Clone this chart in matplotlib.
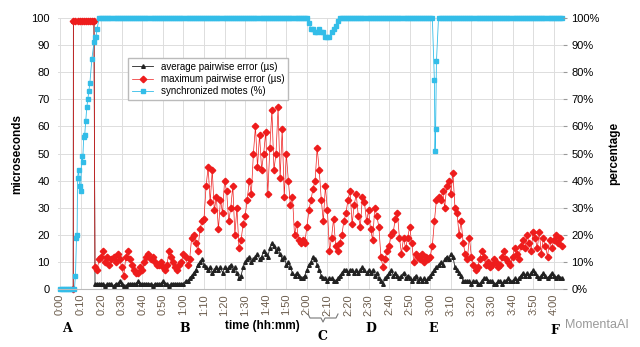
import matplotlib.pyplot as plt
from matplotlib.lines import Line2D

plt.rcParams['font.family'] = ['Liberation Sans', 'DejaVu Sans']

# time in minutes from start
err_t = list(range(17, 245))

# maximum pairwise error (us), one value per minute from 0:17
max_err = [8, 7, 11,
           12, 14, 10, 12, 9, 11, 12, 10, 13, 11,
           8, 5, 12, 14, 11, 9, 7, 6, 6, 8,
           7, 10, 12, 13, 11, 12, 10, 9, 9, 10,
           8, 7, 9, 14, 12, 10, 8, 7, 9, 10,
           13, 12, 9, 11, 19, 20, 17, 14, 22, 25,
           26, 38, 45, 32, 44, 29, 34, 22, 33, 28,
           40, 36, 25, 30, 38, 20, 30, 15, 18, 24,
           27, 33, 40, 35, 50, 60, 45, 57, 44, 50,
           58, 35, 52, 66, 44, 50, 67, 41, 59, 34,
           50, 40, 31, 34, 20, 24, 18, 17, 18, 17,
           23, 29, 33, 37, 40, 52, 44, 33, 25, 38,
           29, 14, 19, 26, 16, 14, 17, 20, 25, 28,
           33, 36, 24, 31, 35, 27, 23, 34, 32, 25,
           29, 22, 18, 30, 27, 23, 12, 8, 11, 14,
           16, 20, 21, 26, 28, 19, 13, 19, 15, 19,
           23, 17, 10, 13, 12, 11, 13, 10, 12, 11,
           12, 16, 25, 33, 34, 33, 36, 30, 38, 40,
           35, 43, 30, 28, 20, 25, 17, 13, 11, 19,
           12, 9, 7, 8, 11, 14, 12, 9, 10, 8,
           9, 11, 10, 8, 9, 12, 14, 11, 10, 9,
           12, 15, 13, 11, 16, 18, 15, 20, 17, 14,
           21, 19, 15, 21, 13, 19, 16, 12, 18, 15,
           18, 20, 17, 19, 16]

# average pairwise error (us)
avg_err = [2, 2, 2,
           2, 2, 1, 2, 2, 2, 1, 2, 2, 3,
           2, 1, 1, 2, 2, 2, 2, 2, 3, 2,
           2, 2, 2, 2, 2, 1, 2, 2, 2, 2,
           3, 2, 2, 1, 2, 2, 2, 2, 2, 2,
           2, 3, 3, 4, 5, 6, 7, 9, 10, 11,
           9, 8, 7, 8, 6, 7, 8, 7, 8, 6,
           8, 7, 8, 9, 7, 8, 6, 4, 5, 8,
           10, 11, 12, 10, 11, 12, 13, 11, 12, 14,
           13, 12, 15, 17, 16, 14, 15, 13, 11, 12,
           9, 10, 8, 6, 5, 6, 5, 4, 4, 5,
           7, 9, 10, 12, 11, 9, 7, 5, 4, 4,
           3, 4, 4, 3, 3, 4, 5, 6, 7, 7,
           6, 7, 7, 6, 7, 6, 7, 8, 7, 6,
           7, 6, 7, 5, 6, 4, 3, 2, 4, 5,
           6, 7, 5, 6, 5, 4, 5, 6, 4, 5,
           4, 3, 4, 5, 3, 4, 3, 4, 3, 4,
           5, 6, 7, 8, 9, 10, 9, 11, 12, 11,
           13, 12, 8, 7, 6, 5, 3, 3, 3, 3,
           2, 3, 3, 2, 2, 3, 4, 4, 3, 3,
           3, 2, 2, 3, 3, 2, 3, 3, 4, 3,
           3, 4, 3, 4, 5, 6, 5, 6, 5, 6,
           7, 6, 5, 4, 5, 6, 5, 4, 5, 6,
           5, 4, 5, 4, 4]

# start-up phase: errors saturate at the top of the scale
start_t = [6.4, 6.5, 7.5, 8.5, 9.5, 10.5, 11.5, 12.5, 13.5, 14.5, 15.5, 16.5]
start_err = [0, 99, 99, 99, 99, 99, 99, 99, 99, 99, 99, 99]

# synchronized motes (%)
sync_t = ([0, 1, 2, 3, 4, 5, 6, 7]
          + [7.5, 8, 8.3, 8.5, 9, 9.5, 10, 10.5, 11, 11.5, 12, 12.5, 13,
             13.5, 14, 14.5, 15.5, 16.5, 17, 17.5, 18]
          + list(range(19, 121))
          + list(range(121, 136))
          + list(range(136, 182))
          + [182, 182.3, 182.6, 183]
          + list(range(184, 245)))
sync_pct = ([0, 0, 0, 0, 0, 0, 0, 0]
            + [5, 19, 20, 41, 44, 38, 36, 49, 47, 56, 57, 62, 67,
               70, 73, 76, 85, 91, 93, 93, 96]
            + [100] * 102
            + [98, 96, 96, 95, 95, 96, 95, 95, 93, 93, 93, 95, 96, 97, 99]
            + [100] * 46
            + [77, 51, 59, 84]
            + [100] * 61)

tick_min = list(range(0, 241, 10))
tick_lbl = ["%d:%02d" % (m // 60, m % 60) for m in tick_min]

fig = plt.figure(figsize=(6.4, 3.47), dpi=100)
ax = fig.add_axes([0.0906, 0.167, 0.789, 0.781])

ax.plot(start_t + err_t, start_err + avg_err, color='#222222', lw=0.6,
        marker='^', markersize=2.6, label='average pairwise error (µs)', clip_on=False)
ax.plot(start_t + err_t, start_err + max_err, color='#ee1c1c', lw=0.5,
        marker='D', markersize=3.3, label='maximum pairwise error (µs)', clip_on=False)
ax.plot(sync_t, sync_pct, color='#33bde8', lw=0.6,
        marker='s', markersize=3.0, label='synchronized motes (%)', clip_on=False)

ax.set_xlim(-1, 244.5)
ax.set_ylim(0, 100)
ax.set_yticks(range(0, 101, 10))
ax.set_xticks(tick_min)
ax.set_xticklabels(tick_lbl, rotation=90, color='#6b5c4c', fontsize=8)
ax.tick_params(axis='both', length=0, labelsize=8)
ax.tick_params(axis='y', pad=6)
ax.grid(True, color='#dddddd', lw=0.7)
ax.set_axisbelow(True)
for s in ['top', 'right', 'left']:
    ax.spines[s].set_visible(False)
ax.spines['bottom'].set_color('#bbbbbb')
ax.set_ylabel('microseconds', fontweight='bold', fontsize=8.5, labelpad=6)

ax2 = ax.twinx()
ax2.set_ylim(0, 100)
ax2.set_yticks(range(0, 101, 10))
ax2.set_yticklabels(['%d%%' % v for v in range(0, 101, 10)])
ax2.tick_params(axis='y', length=3, color='#999999', labelsize=8, pad=3)
for s in ax2.spines.values():
    s.set_visible(False)
ax2.set_ylabel('percentage', fontweight='bold', fontsize=8.5, labelpad=6)

leg = ax.legend(loc='upper left', bbox_to_anchor=(0.13, 0.87), fontsize=7,
                fancybox=False, edgecolor='#bbbbbb', framealpha=1,
                handlelength=2.2, borderpad=0.35, labelspacing=0.25)

fig.text(262 / 640, 1 - 326 / 347, 'time (hh:mm)', fontweight='bold', fontsize=8.5,
         ha='center', va='center')
for lab, x, y in [('A', 67, 328), ('B', 185, 328), ('C', 322, 337), ('D', 371, 328),
                  ('E', 433, 328), ('F', 555, 331)]:
    fig.text(x / 640, 1 - y / 347, lab, family='DejaVu Serif', fontweight='bold',
             fontsize=9, ha='center', va='center')

bx = [308, 310, 321, 323, 325, 336, 338]
by = [314, 318, 318, 322, 318, 318, 314]
fig.lines.append(Line2D([v / 640 for v in bx], [1 - v / 347 for v in by],
                        transform=fig.transFigure, color='#777777', lw=0.8))

fig.text(597 / 640, 1 - 325 / 347, 'MomentaAI', color='#9a9a9a', fontsize=9,
         ha='center', va='center')

fig.savefig('out.png', dpi=100)
